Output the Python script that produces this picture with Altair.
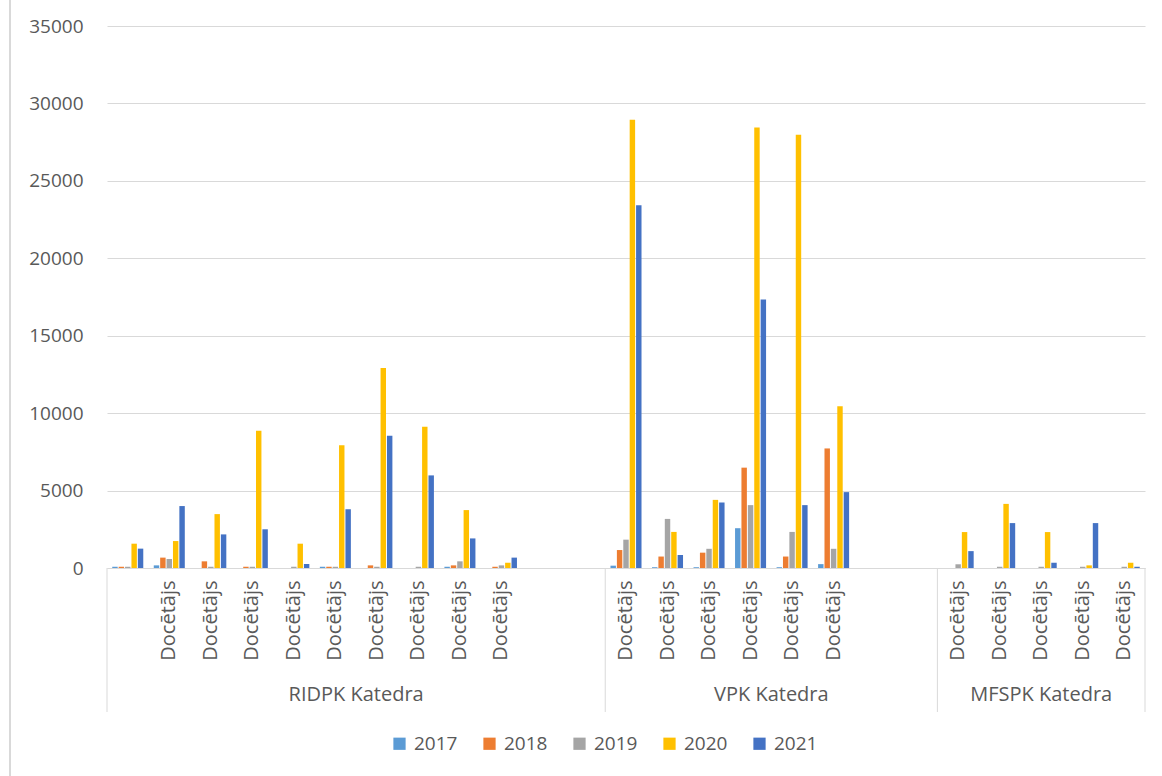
import altair as alt
import pandas as pd

years = ["2017", "2018", "2019", "2020", "2021"]
colors = ["#5B9BD5", "#ED7D31", "#A5A5A5", "#FFC000", "#4472C4"]

departments = ["RIDPK Katedra", "VPK Katedra", "MFSPK Katedra"]
# category-axis labels, one per slot of each department ("" = empty label)
ridpk_labels = ["", "Docētājs", "Docētājs", "Docētājs", "Docētājs", "Docētājs",
                "Docētājs", "Docētājs", "Docētājs", "Docētājs", "", ""]
vpk_labels = ["Docētājs", "Docētājs", "Docētājs", "Docētājs", "Docētājs", "Docētājs", "", ""]
mfspk_labels = ["Docētājs", "Docētājs", "Docētājs", "Docētājs", "Docētājs"]

# number of slots holding data in each department
ridpk_n, vpk_n, mfspk_n = 10, 6, 5

# series values: RIDPK (10) + VPK (6) + MFSPK (5)
v2017 = [80, 170, 0, 0, 0, 80, 0, 0, 80, 0,
         150, 50, 50, 2570, 50, 250,
         0, 0, 0, 0, 0]
v2018 = [80, 670, 430, 80, 0, 80, 170, 0, 170, 80,
         1160, 740, 990, 6480, 740, 7720,
         0, 0, 0, 0, 0]
v2019 = [80, 580, 80, 80, 80, 80, 80, 80, 430, 170,
         1830, 3170, 1240, 4060, 2330, 1240,
         240, 80, 80, 80, 80]
v2020 = [1570, 1740, 3480, 8860, 1570, 7930, 12920, 9120, 3740, 340,
         28950, 2330, 4400, 28450, 27980, 10440,
         2320, 4140, 2320, 170, 340]
v2021 = [1250, 4000, 2170, 2500, 260, 3800, 8540, 5980, 1910, 670,
         23430, 840, 4230, 17340, 4060, 4900,
         1090, 2900, 340, 2900, 80]
series = [v2017, v2018, v2019, v2020, v2021]

# build slot ids "label|key"
slots = []
data_slots = []
for code, labels, n in [("R", ridpk_labels, ridpk_n), ("V", vpk_labels, vpk_n), ("M", mfspk_labels, mfspk_n)]:
    for i, lab in enumerate(labels):
        sid = f"{lab}|{code}{i:02d}"
        slots.append(sid)
        if i < n:
            data_slots.append(sid)

rows = []
for j, sid in enumerate(data_slots):
    for y, vals in zip(years, series):
        rows.append({"slot": sid, "year": y, "value": vals[j]})
df = pd.DataFrame(rows)

GRID = "#D9D9D9"
TXT = "#595959"
FONT = "Open Sans"
W, H = 1038, 542


def xenc(band=0.5):
    return alt.X(
        "slot:N",
        sort=None,
        bandPosition=band,
        scale=alt.Scale(domain=slots, paddingInner=0, paddingOuter=0),
        axis=alt.Axis(
            title=None, labelExpr="split(datum.value, '|')[0]", labelAngle=270,
            ticks=False, grid=False, domainColor=GRID, domainWidth=1,
            labelColor=TXT, labelFont=FONT, labelFontSize=20, labelPadding=12,
        ),
    )


bars = alt.Chart(df).mark_bar().encode(
    x=xenc(),
    xOffset=alt.XOffset("year:N", scale=alt.Scale(domain=years, paddingInner=0.15, paddingOuter=0.82)),
    y=alt.Y(
        "value:Q",
        scale=alt.Scale(domain=[0, 35000], nice=False),
        axis=alt.Axis(
            title=None, values=list(range(0, 35001, 5000)), format="d",
            domain=False, ticks=False, gridColor=GRID, labelPadding=24,
            labelColor=TXT, labelFont=FONT, labelFontSize=19,
        ),
    ),
    color=alt.Color(
        "year:N",
        scale=alt.Scale(domain=years, range=colors),
        legend=alt.Legend(
            orient="none", legendX=283, legendY=708, direction="horizontal",
            title=None, symbolType="square", symbolSize=150, symbolStrokeWidth=0,
            labelFont=FONT, labelFontSize=19, labelColor=TXT, columnPadding=22,
            labelOffset=5,
        ),
    ),
)

# department labels (centers: R between slots 6/7, V between 4/5, M middle of slot 3)
sec_a = pd.DataFrame({"slot": [slots[6], slots[12 + 4]], "name": departments[:2]})
sec_b = pd.DataFrame({"slot": [slots[20 + 2]], "name": departments[2:]})
text_style = dict(font=FONT, fontSize=20, color=TXT, baseline="middle", align="center")
sec_text_a = alt.Chart(sec_a).mark_text(**text_style).encode(
    x=xenc(0), y=alt.value(669), text="name:N")
sec_text_b = alt.Chart(sec_b).mark_text(**text_style).encode(
    x=xenc(0.5), y=alt.value(669), text="name:N")

# separators of department groups
sep_left = pd.DataFrame({"slot": [slots[0], slots[12], slots[20]]})
sep_right = pd.DataFrame({"slot": [slots[-1]]})
rule_a = alt.Chart(sep_left).mark_rule(color=GRID, strokeWidth=1).encode(
    x=xenc(0), y=alt.value(H), y2=alt.value(686))
rule_b = alt.Chart(sep_right).mark_rule(color=GRID, strokeWidth=1).encode(
    x=xenc(1), y=alt.value(H), y2=alt.value(686))

# chart-area left border
border = alt.Chart(pd.DataFrame({"b": [0]})).mark_rule(color=GRID, strokeWidth=2).encode(
    x=alt.value(-97), y=alt.value(-26), y2=alt.value(750))

chart = alt.layer(bars, sec_text_a, sec_text_b, rule_a, rule_b, border).properties(
    width=W, height=H,
    padding={"left": 107, "top": 26, "right": 17, "bottom": 208},
    autosize=alt.AutoSizeParams(type="none"),
    background="white",
).configure_view(stroke=None)

chart.save("out.html", embed_options={"renderer": "svg", "actions": False})
